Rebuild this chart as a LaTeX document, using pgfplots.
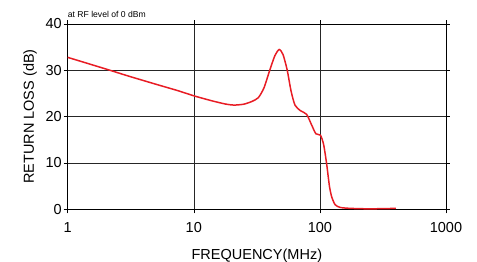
\documentclass[border=0pt]{standalone}
\usepackage{pgfplots}
\pgfplotsset{compat=1.18}
\usepackage{fontspec}
\setmainfont{Liberation Sans}
\definecolor{curvered}{RGB}{232,28,36}
\begin{document}
\begin{tikzpicture}
\useasboundingbox (-67.7bp,-52.7bp) rectangle (409.3bp,209.3bp);
\begin{axis}[
  scale only axis,
  width=378.3bp, height=185.3bp,
  xmode=log, xmin=1, xmax=1000,
  ymin=0, ymax=40,
  xtick={1,10,100,1000},
  xticklabels={1,10,100,1000},
  ytick={0,10,20,30,40},
  log ticks with fixed point,
  /pgf/number format/assume math mode=true,
  grid=major,
  major grid style={black!85, line width=0.6pt},
  axis line style={black, line width=0.8pt},
  tick style={black, line width=0.6pt},
  tick align=outside,
  major tick length=4bp,
  minor tick num=0,
  xminorticks=false,
  ticklabel style={font=\fontsize{14.5bp}{16bp}\selectfont},
  xticklabel style={yshift=-6bp},
  yticklabel style={xshift=1.5bp},
  xlabel={FREQUENCY(MHz)},
  ylabel={RETURN LOSS (dB)},
  label style={font=\fontsize{14.5bp}{16bp}\selectfont},
  xlabel style={at={(axis description cs:0.5,0)}, anchor=center, yshift=-46bp},
  ylabel style={at={([xshift=-37.7bp]axis description cs:0,0.5)}, anchor=center},
  clip=false,
]
\addplot[curvered, line width=1.5pt, smooth, tension=0.4] coordinates {
(1,32.8) (2,30.3) (3,28.8) (5,27.0) (7.5,25.6) (10,24.5) (14,23.4) (18,22.7)
(21,22.5) (25,22.7) (29,23.3) (32.5,24.1) (36,26.2) (40,30.0) (44,33.2)
(47.6,34.5) (51,33.4) (55,30.1) (59,25.6) (63.4,22.5) (70,21.3) (78.5,20.5)
(86,18.2) (93,16.3) (101,16.0) (107,14.0) (113,9.9) (119,5.0) (124,2.7)
(132,1.0) (145,0.4) (175,0.2) (250,0.1) (400,0.2)
};
\node[anchor=south west, inner sep=0pt, font=\fontsize{8.6bp}{9bp}\selectfont] at ([yshift=6bp]axis description cs:0,1) {at RF level of 0 dBm};
\end{axis}
\end{tikzpicture}
\end{document}
